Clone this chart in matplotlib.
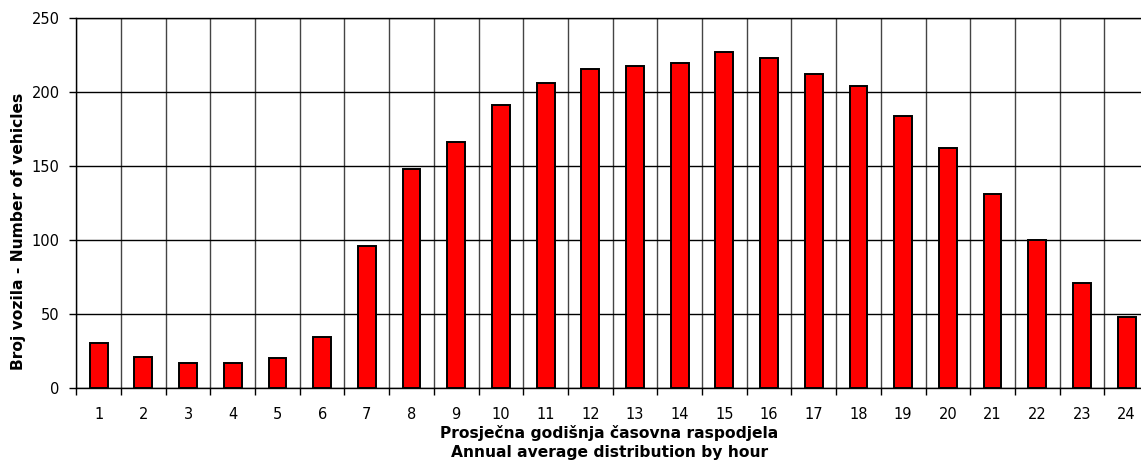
import numpy as np
import matplotlib.pyplot as plt

hours = [str(h) for h in range(1, 25)]
vehicles = [30, 21, 17, 17, 20, 34, 96, 148, 166, 191, 206, 216,
            218, 220, 227, 223, 212, 204, 184, 162, 131, 100, 71, 48]
y_ticks = [0, 50, 100, 150, 200, 250]

fig = plt.figure(figsize=(11.41, 4.61), dpi=100)
# axes runs a little past the right edge, as in the original
ax = fig.add_axes([0.0669, 0.159, 0.9401, 0.8013])

x = np.arange(1, len(hours) + 1)
ax.bar(x, vehicles, width=0.4, color='#ff0000', edgecolor='black',
       linewidth=1.4, zorder=3)

ax.set_xlim(0.5, len(hours) + 0.5)
ax.set_ylim(0, 250)
ax.set_yticks(y_ticks)
ax.set_xticks(x)
ax.set_xticklabels(hours)
ax.set_xticks(np.arange(0.5, len(hours) + 1, 1), minor=True)

ax.tick_params(axis='x', which='major', length=0, pad=14, labelsize=10.5)
ax.tick_params(axis='x', which='minor', length=5, width=1, color='black')
ax.tick_params(axis='y', length=5, width=1, pad=7, labelsize=10.5)

ax.grid(axis='y', which='major', color='black', linewidth=1, zorder=0)
ax.grid(axis='x', which='minor', color='#444444', linewidth=1, zorder=0)
ax.set_axisbelow(True)

for side in ['left', 'bottom', 'top']:
    ax.spines[side].set_color('black')
    ax.spines[side].set_linewidth(1)
ax.spines['right'].set_visible(False)

ax.set_ylabel('Broj vozila - Number of vehicles', fontsize=11.2,
              fontweight='bold')
ax.yaxis.set_label_coords(-0.047, 0.424)
ax.set_xlabel('Prosječna godišnja časovna raspodjela\nAnnual average distribution by hour',
              fontsize=11.2, fontweight='bold', linespacing=1.4)
ax.xaxis.set_label_coords(0.497, -0.1)

fig.savefig('out.png', dpi=100)
